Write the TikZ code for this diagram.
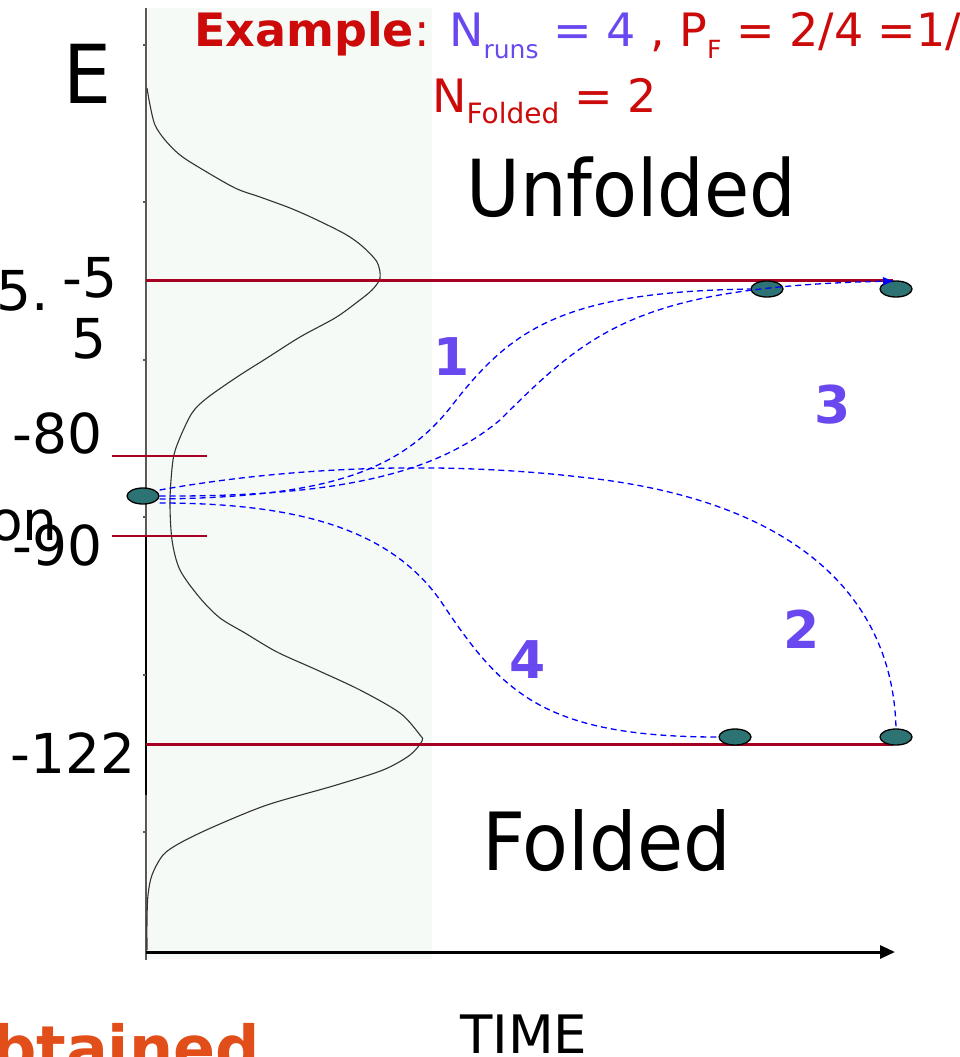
\documentclass[tikz,border=0pt]{standalone}
\usepackage{fontspec}
\setmainfont{DejaVu Sans}
\usetikzlibrary{arrows.meta,shapes.geometric,calc}
\definecolor{redtext}{HTML}{CC0A0A}
\definecolor{numblue}{HTML}{6A48F0}
\definecolor{runblue}{HTML}{0000FF}
\definecolor{lvlred}{HTML}{A50021}
\definecolor{teal2}{HTML}{2E7373}
\definecolor{orng}{HTML}{E24E1A}
\definecolor{bgpanel}{HTML}{F5FAF6}
\newcommand{\fs}[1]{\fontsize{#1}{#1}\selectfont}
\newcommand{\subtxt}[2]{\raisebox{-0.26em}{\fs{#1}#2}}
\newcommand{\tall}[1]{\scalebox{1}[1.07]{#1}}
\begin{document}
\begin{tikzpicture}[x=1pt,y=-1pt,
  lbl/.style={inner sep=0pt,anchor=base west,font=\fs{55}},
  num/.style={inner sep=0pt,anchor=base west,font=\fs{52}\bfseries,text=numblue},
  state/.style={ellipse,draw=black,line width=1.3pt,fill=teal2,minimum width=32pt,minimum height=16pt,inner sep=0pt},
  run/.style={draw=runblue,line width=1.3pt,dash pattern=on 6pt off 4pt},
  level/.style={draw=lvlred,line width=3pt},
  short/.style={draw=lvlred,line width=2.5pt}]
\useasboundingbox (0,0) rectangle (960,1057);
% panel
\fill[bgpanel] (148,8) rectangle (432,959);
% vertical axis
\draw[line width=1.5pt,draw=black!65] (146,8) -- (146,960);
\draw[line width=2.2pt] (146,536) -- (146,795);
\foreach \ty in {45,202,360,517,675,832} \draw[line width=1.2pt,draw=black!65] (143,\ty) -- (146,\ty);
% distribution
\draw[line width=1.1pt,draw=black!80] plot[smooth,tension=0.5] coordinates {
 (147,88) (150,105) (155,125) (165,140) (180,155) (200,168) (235,188) (260,197) (290,208) (315,219) (345,234) (362,246) (377,262) (380,278)
 (372,290) (356,303) (335,318) (300,337) (267,358) (237,377) (207,398) (192,413) (179,440) (173,460) (170,500) (172,540) (180,570) (200,598) (220,618) (245,633) (277,652) (317,670) (360,690) (400,713) (420,735) (422,741)
 (410,755) (383,770) (333,786) (267,805) (213,827) (180,843) (163,855) (152,875) (148,895) (147,920) (147,950)};
% horizontal axis
\coordinate (t0) at (146,952);
\coordinate (t1) at (895,952);
\draw[line width=3pt,-{Triangle[length=15pt,width=13pt]}] (t0) -- (t1);
% level lines
\coordinate (ua) at (146,280); \coordinate (ub) at (893,280);
\coordinate (fa) at (146,744); \coordinate (fb) at (893,744);
\draw[level] (ua) -- (ub);
\draw[level] (fa) -- (fb);
\coordinate (ta1) at (112,456); \coordinate (tb1) at (207,456);
\coordinate (ta2) at (112,536); \coordinate (tb2) at (207,536);
\draw[short] (ta1) -- (tb1);
\draw[short] (ta2) -- (tb2);
% states
\node[state] (s) at (143,496) {};
\node[state] (u1) at (767,289) {};
\node[state] (u2) at (896,289) {};
\node[state] (f1) at (735,737) {};
\node[state] (f2) at (896,737) {};
% runs
\draw[run] ($(s.east)+(0,-6)$) .. controls (300,465) and (450,462) .. (580,477) .. controls (800,500) and (893,600) .. (f2.north);
\draw[run] ($(s.east)+(0,3)$) .. controls (330,497) and (400,470) .. (450,408) .. controls (510,330) and (560,292) .. (u1.west);
\draw[run,-{Triangle[length=10pt,width=8pt]}] (s.east) .. controls (350,497) and (440,470) .. (500,420) .. controls (590,330) and (640,287) .. (893,281);
\draw[run] ($(s.east)+(0,7)$) .. controls (300,503) and (390,530) .. (440,600) .. controls (500,690) and (540,737) .. (f1.west);
% labels
\node[lbl,font=\fs{76}] (E) at (63,103) {\tall{E}};
\node[lbl] (m5) at (62,297) {-5};
\node[lbl] (m55a) at (-4,310) {5.};
\node[lbl] (m55b) at (71,358) {5};
\node[lbl] (m80) at (12,453) {-80};
\node[lbl,anchor=base east] (on) at (58,540) {on};
\node[lbl] (m90) at (12,565) {-90};
\node[lbl] (m122) at (10,773) {-122};
\node[lbl,font=\fs{73.5}] (unf) at (466,216) {\tall{Unfolded}};
\node[lbl,font=\fs{75}] (fol) at (482,870) {\tall{Folded}};
\node[lbl,font=\fs{53}] (time) at (460,1053) {TIME};
\node[lbl,font=\fs{62}\bfseries,text=orng,anchor=base east] (obt) at (260,1070) {obtained};
\node[num] (n1) at (433,375) {1};
\node[num] (n3) at (814,423) {3};
\node[num] (n2) at (783,648) {2};
\node[num] (n4) at (509,678) {4};
\node[lbl,font=\fs{46},text=redtext] (ex1) at (194,47) {\textbf{Example}: \textcolor{numblue}{N\subtxt{25}{runs} = 4} , P\subtxt{25}{F} = 2/4 =1/4};
\node[lbl,font=\fs{46},text=redtext] (ex2) at (432,112) {N\subtxt{28}{Folded} = 2};
\end{tikzpicture}
\end{document}
